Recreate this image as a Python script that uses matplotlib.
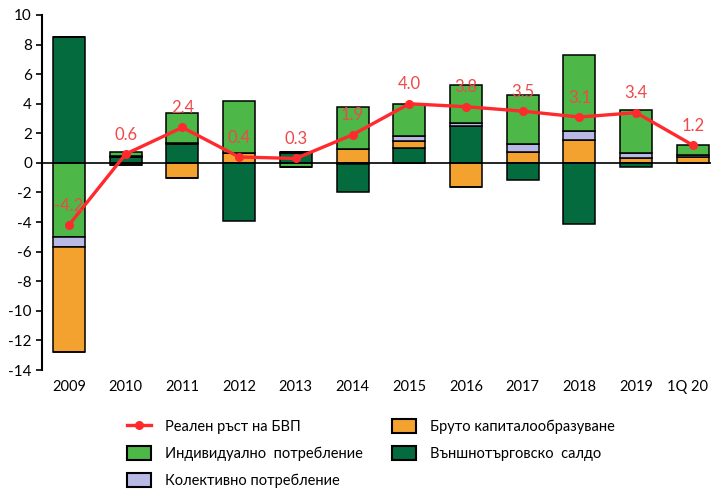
import matplotlib
matplotlib.use("Agg")
import matplotlib.pyplot as plt
import matplotlib.transforms as mtransforms
from matplotlib.patches import Patch
from matplotlib.lines import Line2D
import numpy as np

plt.rcParams['font.family'] = ['Lato', 'DejaVu Sans']
plt.rcParams['axes.unicode_minus'] = False

years = ['2009', '2010', '2011', '2012', '2013', '2014', '2015', '2016',
         '2017', '2018', '2019', '1Q 20']
individual = [-5.0, 0.3, 2.05, 3.5, -0.3, 2.8, 2.15, 2.6, 3.3, 5.15, 2.95, 0.72]
collective = [-0.7, 0.05, 0.1, 0.05, 0.0, -0.1, 0.35, 0.2, 0.55, 0.6, 0.35, 0.12]
capital = [-7.1, -0.15, -1.05, 0.65, 0.05, 0.95, 0.45, -1.6, 0.75, 1.55, 0.3, 0.4]
trade = [8.5, 0.4, 1.25, -3.9, 0.7, -1.85, 1.0, 2.5, -1.15, -4.15, -0.25, 0.0]
gdp = [-4.2, 0.6, 2.4, 0.4, 0.3, 1.9, 4.0, 3.8, 3.5, 3.1, 3.4, 1.2]

lbl_gdp = 'Реален ръст на БВП'
lbl_ind = 'Индивидуално  потребление'
lbl_col = 'Колективно потребление'
lbl_cap = 'Бруто капиталообразуване'
lbl_trd = 'Външнотърговско  салдо'

c_ind = '#4DB748'
c_col = '#B9B9E6'
c_cap = '#F4A22F'
c_trd = '#036B3E'
c_line = '#FF2A2E'
c_lab = '#F04848'

fig = plt.figure(figsize=(7.11, 4.90), dpi=100)
ax = fig.add_axes([41.7 / 711, 1 - 370 / 490, 1 - 41.7 / 711, (370 - 15) / 490])

x = np.arange(len(years))
w = 0.565
series = {'ind': (individual, c_ind), 'col': (collective, c_col),
          'cap': (capital, c_cap), 'trd': (trade, c_trd)}
pos_order = ['trd', 'cap', 'col', 'ind']
neg_order = ['ind', 'col', 'cap', 'trd']

pos_base = np.zeros(len(years))
neg_base = np.zeros(len(years))
for key in pos_order:
    vals, col = series[key]
    v = np.array(vals)
    vp = np.where(v > 0, v, 0)
    ax.bar(x, vp, w, bottom=pos_base, color=col, edgecolor='black', linewidth=1.1, zorder=2)
    pos_base += vp
for key in neg_order:
    vals, col = series[key]
    v = np.array(vals)
    vn = np.where(v < 0, v, 0)
    ax.bar(x, vn, w, bottom=neg_base, color=col, edgecolor='black', linewidth=1.1, zorder=2)
    neg_base += vn

ax.axhline(0, color='black', lw=1.2, zorder=3)
ax.plot(x, gdp, color=c_line, lw=2.4, marker='o', markersize=5.5, zorder=4)
for xi, g in zip(x, gdp):
    ax.annotate(f'{g:.1f}', (xi, g), xytext=(0, 14), textcoords='offset points',
                ha='center', va='center', color=c_lab, fontsize=12, zorder=5)

ax.set_xlim(-0.48, 11.32)
ax.set_ylim(-14, 10)
ax.set_yticks(np.arange(-14, 11, 2))
ax.set_yticklabels([str(v) for v in range(-14, 11, 2)])
ax.set_xticks(x)
ax.set_xticklabels(years)
ax.tick_params(axis='x', length=0, pad=7, labelsize=10.5)
ax.tick_params(axis='y', length=4, width=1.2, labelsize=11, pad=3)
last = ax.get_xticklabels()[-1]
last.set_transform(last.get_transform() +
                   mtransforms.ScaledTranslation(-5 / 100, 0, fig.dpi_scale_trans))
for s in ['top', 'right', 'bottom']:
    ax.spines[s].set_visible(False)
ax.spines['left'].set_linewidth(1.5)
ax.spines['left'].set_color('black')

handles = [
    Line2D([], [], color=c_line, lw=2.4, marker='o', markersize=5.5),
    Patch(facecolor=c_ind, edgecolor='black', lw=1.5),
    Patch(facecolor=c_col, edgecolor='black', lw=1.5),
    Patch(facecolor=c_cap, edgecolor='black', lw=1.5),
    Patch(facecolor=c_trd, edgecolor='black', lw=1.5),
]
labels = [lbl_gdp, lbl_ind, lbl_col, lbl_cap, lbl_trd]
fig.legend(handles, labels, ncol=2, loc='upper left',
           bbox_to_anchor=(126.7 / 711, 1 - 419 / 490), frameon=False,
           fontsize=10.5, borderpad=0, borderaxespad=0, handlelength=1.65,
           handleheight=1.15, handletextpad=0.95, labelspacing=0.8,
           columnspacing=2.0)

fig.savefig('out.png', dpi=100)
